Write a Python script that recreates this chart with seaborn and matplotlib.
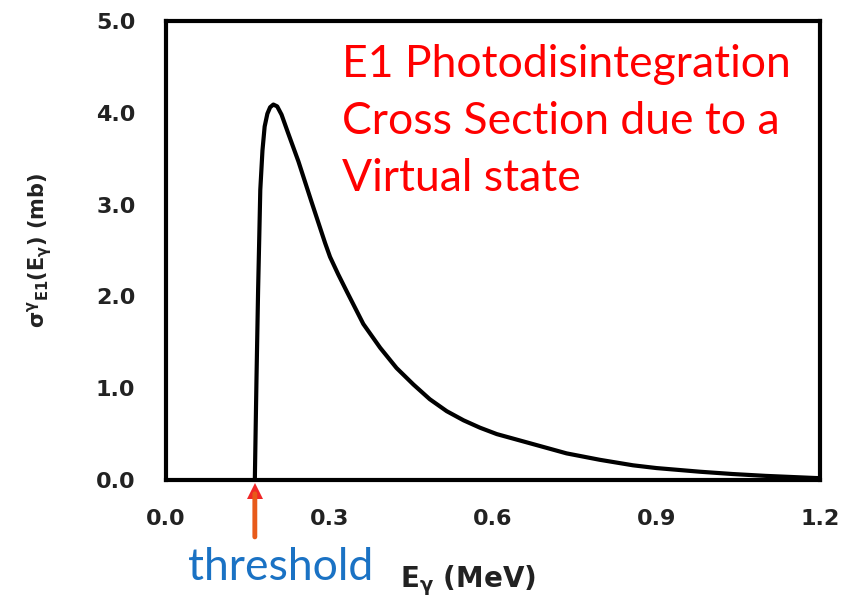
import matplotlib
matplotlib.use("Agg")
import matplotlib.pyplot as plt
import seaborn as sns
import pandas as pd

# Data
energy = [0.163, 0.1645, 0.166, 0.169, 0.171, 0.173, 0.177, 0.181, 0.186, 0.191,
          0.197, 0.204, 0.212, 0.224, 0.243, 0.267, 0.292, 0.301, 0.316, 0.332,
          0.362, 0.393, 0.423, 0.454, 0.484, 0.515, 0.546, 0.576, 0.607, 0.668,
          0.735, 0.796, 0.857, 0.90, 0.98, 1.04, 1.10, 1.19, 1.20]
sigma = [0.0, 0.55, 1.09, 2.07, 2.61, 3.16, 3.59, 3.85, 3.99, 4.06,
         4.09, 4.07, 3.98, 3.78, 3.47, 3.03, 2.58, 2.43, 2.24, 2.05,
         1.70, 1.44, 1.22, 1.04, 0.88, 0.75, 0.65, 0.57, 0.50, 0.40,
         0.29, 0.22, 0.16, 0.13, 0.09, 0.065, 0.045, 0.022, 0.02]
threshold = 0.163
x_ticks = [0.0, 0.3, 0.6, 0.9, 1.2]
y_ticks = [0.0, 1.0, 2.0, 3.0, 4.0, 5.0]
title_lines = ["E1 Photodisintegration", "Cross Section due to a", "Virtual state"]

df = pd.DataFrame({"E": energy, "sigma": sigma})

sns.set_style("white")
plt.rcParams["font.family"] = ["DejaVu Sans"]
plt.rcParams["mathtext.default"] = "bf"

W, H = 854, 599
fig = plt.figure(figsize=(W / 100, H / 100), dpi=100)
ax = fig.add_axes([166 / W, 1 - 480 / H, (820 - 166) / W, (480 - 21) / H])

sns.lineplot(data=df, x="E", y="sigma", ax=ax, color="black", linewidth=3,
             sort=False, estimator=None)

ax.set_xlim(0, 1.2)
ax.set_ylim(0, 5.0)
ax.set_xticks(x_ticks)
ax.set_yticks(y_ticks)
ax.set_xticklabels([f"{v:.1f}" for v in x_ticks], fontweight="bold", fontsize=16)
ax.set_yticklabels([f"{v:.1f}" for v in y_ticks], fontweight="bold", fontsize=16)
ax.tick_params(axis="both", direction="in", length=7, width=2, color="black",
               labelcolor="#222222")
ax.tick_params(axis="x", pad=21)
ax.tick_params(axis="y", pad=22)
for s in ax.spines.values():
    s.set_visible(True)
    s.set_color("black")
    s.set_linewidth(3)
ax.set_xlabel("")
ax.set_ylabel(r"$\sigma^{\gamma}{}_{E1}(E_{\gamma})$ (mb)", fontsize=15,
              fontweight="bold", color="#222222", labelpad=30)

# x label placed as in reference
fig.text(400 / W, 1 - 587 / H, r"E$_{\gamma}$ (MeV)", fontsize=20,
         fontweight="bold", color="#222222", ha="left", va="baseline")

# threshold arrow and label
ax.annotate("", xy=(threshold, -0.12), xytext=(threshold, -0.65),
            xycoords="data", textcoords="data", annotation_clip=False,
            arrowprops=dict(arrowstyle="-", color="#e85a1a", lw=3.5))
ax.plot([threshold], [-0.12], marker="^", markersize=11, color="#f02828",
        clip_on=False, markeredgewidth=0)
fig.text(188 / W, 1 - 580 / H, "threshold", fontsize=32, family=["Lato"],
         color="#1a72c4", ha="left", va="baseline")

# red annotation text
baselines = [77, 134, 191]
for line, b in zip(title_lines, baselines):
    fig.text(342 / W, 1 - b / H, line, fontsize=32, family=["Lato"],
             color="#ff0000", ha="left", va="baseline")

fig.savefig("out.png", dpi=100)
